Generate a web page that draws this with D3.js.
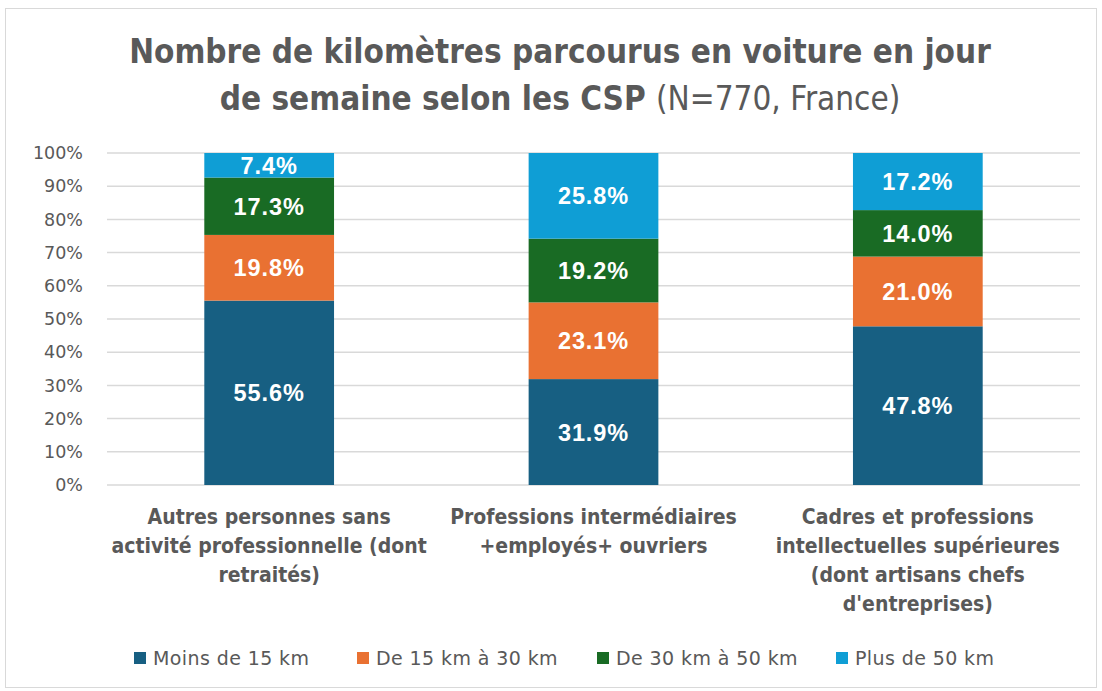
<!DOCTYPE html>
<html><head><meta charset="utf-8">
<script src="https://cdn.jsdelivr.net/npm/d3@7"></script>
<style>
html,body{margin:0;padding:0;background:#fff;}
svg{display:block;}
</style></head>
<body>
<svg id="chart" width="1102" height="691"></svg>
<script>
const categories = [
  ["Autres personnes sans", "activité professionnelle (dont", "retraités)"],
  ["Professions intermédiaires", "+employés+ ouvriers"],
  ["Cadres et professions", "intellectuelles supérieures", "(dont artisans chefs", "d'entreprises)"]
];
const seriesNames = ["Moins de 15 km", "De 15 km à 30 km", "De 30 km à 50 km", "Plus de 50 km"];
const moins15 = [55.6, 31.9, 47.8];
const de15a30 = [19.8, 23.1, 21.0];
const de30a50 = [17.3, 19.2, 14.0];
const plus50 = [7.4, 25.8, 17.2];
const colors = ["#175F82", "#E97132", "#196B24", "#0F9ED5"];
const yTicks = [0, 0.1, 0.2, 0.3, 0.4, 0.5, 0.6, 0.7, 0.8, 0.9, 1.0];

const NARROW = "'Liberation Sans Narrow','DejaVu Sans Condensed','Roboto Condensed',sans-serif";
const SANS = "'Liberation Sans', Arial, sans-serif";
const WIDE = "'DejaVu Sans', Verdana, sans-serif";
const GRAY = "#595959";

const svg = d3.select("#chart");
svg.append("rect").attr("x", 5.5).attr("y", 8.5).attr("width", 1091).attr("height", 679)
  .attr("fill", "#fff").attr("stroke", "#d9d9d9").attr("stroke-width", 1);

const seriesArrays = [moins15, de15a30, de30a50, plus50];
const rows = categories.map((c, i) => {
  const r = {idx: i};
  seriesNames.forEach((s, j) => r[s] = seriesArrays[j][i]);
  return r;
});

const x = d3.scaleBand().domain(d3.range(categories.length)).range([107, 1080]).paddingInner(0.6).paddingOuter(0.3);
const y = d3.scaleLinear().domain([0, 1]).range([485, 153]);

// gridlines
svg.append("g").selectAll("line").data(yTicks).join("line")
  .attr("x1", 107).attr("x2", 1080)
  .attr("y1", d => y(d)).attr("y2", d => y(d))
  .attr("stroke", "#d9d9d9").attr("stroke-width", 1.5);

// y axis labels
const yAxis = d3.axisLeft(y).tickValues(yTicks).tickFormat(d3.format(".0%")).tickSize(0).tickPadding(0);
const yg = svg.append("g").attr("transform", "translate(83,0)").call(yAxis);
yg.select(".domain").remove();
yg.selectAll("text").attr("font-family", WIDE).attr("font-size", 17.5).attr("fill", GRAY);

// stack
const stack = d3.stack().keys(seriesNames).offset(d3.stackOffsetExpand);
const stacked = stack(rows);

const g = svg.append("g");
stacked.forEach((layer, j) => {
  g.append("g").selectAll("rect").data(layer).join("rect")
    .attr("x", d => x(d.data.idx))
    .attr("width", x.bandwidth())
    .attr("y", d => y(d[1]))
    .attr("height", d => y(d[0]) - y(d[1]))
    .attr("fill", colors[j]);
  g.append("g").selectAll("text").data(layer).join("text")
    .attr("x", d => x(d.data.idx) + x.bandwidth() / 2)
    .attr("y", d => (y(d[0]) + y(d[1])) / 2)
    .attr("dy", "0.36em")
    .attr("text-anchor", "middle")
    .attr("font-family", SANS).attr("font-weight", "bold").attr("font-size", 23.5)
    .attr("letter-spacing", 0.9)
    .attr("fill", "#fff")
    .text(d => d.data[layer.key].toFixed(1) + "%");
});

// category labels
const cg = svg.append("g");
categories.forEach((lines, i) => {
  const t = cg.append("text").attr("text-anchor", "middle")
    .attr("font-family", NARROW).attr("font-weight", "bold").attr("font-size", 21).attr("fill", GRAY);
  lines.forEach((l, k) => {
    t.append("tspan").attr("x", x(i) + x.bandwidth() / 2).attr("y", 524 + k * 29).text(l);
  });
});

// title
const title = svg.append("text").attr("text-anchor", "middle").attr("fill", GRAY)
  .attr("font-family", NARROW).attr("font-size", 33);
title.append("tspan").attr("x", 560).attr("y", 63).attr("font-weight", "bold")
  .text("Nombre de kilomètres parcourus en voiture en jour");
const l2 = title.append("tspan").attr("x", 560).attr("y", 110);
l2.append("tspan").attr("font-weight", "bold").text("de semaine selon les CSP ");
l2.append("tspan").text("(N=770, France)");

// legend
const legendX = [134, 357, 597, 836];
const lg = svg.append("g");
seriesNames.forEach((s, j) => {
  lg.append("rect").attr("x", legendX[j]).attr("y", 652).attr("width", 12).attr("height", 12).attr("fill", colors[j]);
  lg.append("text").attr("x", legendX[j] + 19).attr("y", 658).attr("dy", "0.36em")
    .attr("font-family", WIDE).attr("font-size", 19).attr("letter-spacing", 0.4).attr("fill", GRAY).text(s);
});
</script>
</body></html>
